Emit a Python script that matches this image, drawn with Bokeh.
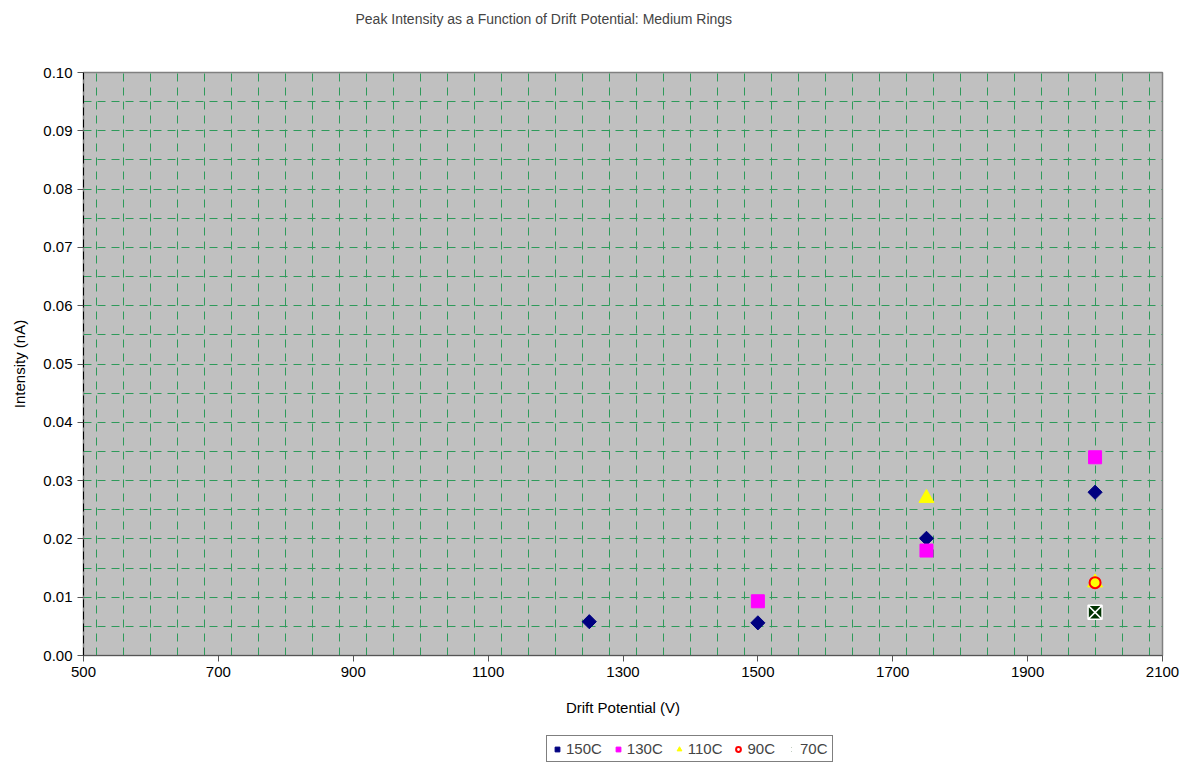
from bokeh.plotting import figure
from bokeh.layouts import column
from bokeh.models import (Legend, LegendItem, SingleIntervalTicker, NumeralTickFormatter,
                          FixedTicker, Title)
from bokeh.embed import file_html
from bokeh.resources import INLINE
import math

# Data
x150 = [1250, 1500, 1750, 2000]
y150 = [0.0058, 0.0056, 0.0201, 0.0280]
x130 = [1500, 1750, 2000]
y130 = [0.0093, 0.0180, 0.0340]
x110 = [1750, 2000]
y110 = [0.0270, 0.0125]
x90 = [2000]
y90 = [0.0125]
x70 = [2000]
y70 = [0.0074]

x_ticks = [500, 700, 900, 1100, 1300, 1500, 1700, 1900, 2100]
y_ticks = [round(i * 0.01, 2) for i in range(11)]
title_text = "Peak Intensity as a Function of Drift Potential: Medium Rings"
series_names = ["150C", "130C", "110C", "90C", "70C"]

FONT = "Liberation Sans"

p = figure(frame_width=1079, frame_height=583, output_backend="svg", toolbar_location=None,
           x_range=(500, 2100), y_range=(0, 0.1),
           min_border_left=83, min_border_right=26, min_border_top=0, min_border_bottom=0,
           title=None)

# spacer (nearest to frame) then the real title on top
p.add_layout(Title(text=" ", text_font_size="14px", standoff=20), "above")
p.add_layout(Title(text=title_text, text_font=FONT, text_font_size="14px",
                   text_font_style="normal", align="left", offset=272, standoff=16), "above")

p.background_fill_color = "#c0c0c0"
p.border_fill_color = "white"
p.outline_line_color = "#808080"
p.outline_line_width = 1.5

# grids
p.xgrid.ticker = SingleIntervalTicker(interval=40)
p.ygrid.ticker = SingleIntervalTicker(interval=0.005)
for g in (p.xgrid, p.ygrid):
    g.grid_line_color = "#2e9a5a"
    g.grid_line_dash = "8 6"
    g.grid_line_width = 1

# axes
p.xaxis.ticker = FixedTicker(ticks=x_ticks)
p.yaxis.ticker = FixedTicker(ticks=y_ticks)
p.yaxis.formatter = NumeralTickFormatter(format="0.00")
p.xaxis.axis_label = "Drift Potential (V)"
p.yaxis.axis_label = "Intensity (nA)"
for ax in (p.xaxis, p.yaxis):
    ax.axis_label_text_font = FONT
    ax.axis_label_text_font_style = "normal"
    ax.axis_label_text_font_size = "15px"
    ax.axis_label_text_color = "black"
    ax.major_label_text_font = FONT
    ax.major_label_text_font_size = "15px"
    ax.major_label_text_color = "black"
    ax.axis_line_color = "#555555"
    ax.major_tick_line_color = "#555555"
    ax.major_tick_out = 6
    ax.major_tick_in = 0
    ax.minor_tick_line_color = None
p.yaxis.axis_line_dash = "8 4"
p.yaxis.axis_line_color = "black"
p.xaxis.axis_label_standoff = 19
p.yaxis.axis_label_standoff = 12


def add_series(fig):
    r1 = fig.scatter(x150, y150, marker="square", angle=math.pi / 4, size=10,
                     fill_color="#000080", line_color="#000080")
    r2 = fig.scatter(x130, y130, marker="square", size=13, fill_color="#ff00ff", line_color="#ff00ff")
    r3 = fig.scatter(x110, y110, marker="triangle", size=15, fill_color="#ffff00", line_color="#ffff00")
    r4 = fig.scatter(x90, y90, marker="circle", size=11, fill_color=None, line_color="#ff0000", line_width=2)
    r5 = fig.scatter(x70, y70, marker="square_x", size=14, fill_color="#003300",
                     line_color="white", line_width=1.5)
    return [r1, r2, r3, r4, r5]


add_series(p)

# Legend strip below the chart (its own small figure so the legend sits in a frame)
p2 = figure(width=1188, height=61, output_backend="svg", toolbar_location=None,
            x_range=(0, 1), y_range=(0, 1), x_axis_location=None, y_axis_location=None,
            min_border_left=0, min_border_right=0, min_border_top=0, min_border_bottom=0)
p2.grid.visible = False
p2.outline_line_color = None
p2.background_fill_color = "white"
p2.border_fill_color = "white"
rs = add_series(p2)

legend = Legend(items=[LegendItem(label=n, renderers=[r]) for n, r in zip(series_names, rs)],
                orientation="horizontal", location=(463, 17))
legend.label_text_font = FONT
legend.label_text_font_size = "15px"
legend.border_line_color = "black"
legend.border_line_width = 1
legend.background_fill_color = "white"
legend.background_fill_alpha = 1
legend.spacing = 10
legend.glyph_width = 12
legend.glyph_height = 14
legend.label_standoff = 3
legend.padding = 4
legend.margin = 0
legend.label_height = 14
p2.add_layout(legend, "center")

layout = column(p, p2, spacing=0)
open("out.html", "w").write(file_html(layout, INLINE))
